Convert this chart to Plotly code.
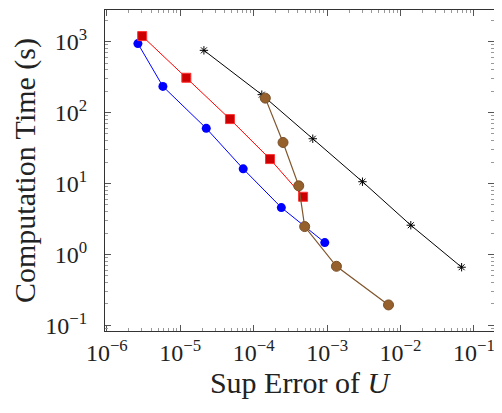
import plotly.graph_objects as go

blue_x = [2.65e-6, 5.8e-6, 2.26e-5, 7.2e-5, 2.38e-4, 9.3e-4]
blue_y = [940, 234, 60, 16.1, 4.58, 1.47]
red_x = [3.03e-6, 1.21e-5, 4.75e-5, 1.67e-4, 4.71e-4]
red_y = [1200, 310, 81, 22.1, 6.5]
black_x = [2.1e-5, 1.29e-4, 6.38e-4, 3.03e-3, 1.38e-2, 6.79e-2]
black_y = [755, 179, 42.8, 10.6, 2.58, 0.66]
brown_x = [1.44e-4, 2.51e-4, 4.11e-4, 4.95e-4, 1.34e-3, 6.86e-3]
brown_y = [160, 37.9, 9.27, 2.47, 0.68, 0.194]

x_decades = [-7, -6, -5, -4, -3, -2, -1]
x_ticks = [1e-6, 1e-5, 1e-4, 1e-3, 1e-2, 1e-1]
x_ticktext = ["10<sup>−6</sup>", "10<sup>−5</sup>", "10<sup>−4</sup>", "10<sup>−3</sup>", "10<sup>−2</sup>", "10<sup>−1</sup>"]
y_decades = [-2, -1, 0, 1, 2, 3]
y_ticks = [1e-1, 1e0, 1e1, 1e2, 1e3]
y_ticktext = ["10<sup>−1</sup>", "10<sup>0</sup>", "10<sup>1</sup>", "10<sup>2</sup>", "10<sup>3</sup>"]

x_minor = [m * 10.0 ** d for d in x_decades for m in range(2, 10)]
y_minor = [m * 10.0 ** d for d in y_decades for m in range(2, 10)]

FONT = "Liberation Serif"
XR = [-6.025, -0.727]
YR = [-1.08, 3.447]

fig = go.Figure()
fig.add_trace(go.Scatter(x=blue_x, y=blue_y, mode="lines+markers",
                         line=dict(color="#0000ff", width=1),
                         marker=dict(symbol="circle", size=9, color="#0000ff")))
fig.add_trace(go.Scatter(x=red_x, y=red_y, mode="lines+markers",
                         line=dict(color="#ff0000", width=1),
                         marker=dict(symbol="square", size=9, color="#cc0000",
                                     line=dict(color="#ff3333", width=1))))
fig.add_trace(go.Scatter(x=black_x, y=black_y, mode="lines+markers",
                         line=dict(color="#000000", width=1),
                         marker=dict(symbol="asterisk-open", size=7, color="#000000",
                                     line=dict(color="#000000", width=1))))
fig.add_trace(go.Scatter(x=brown_x, y=brown_y, mode="lines+markers",
                         line=dict(color="#80552b", width=1.2),
                         marker=dict(symbol="circle", size=10, color="#96602d",
                                     line=dict(color="#7a5028", width=1))))
# carrier trace for the minor-tick axes (invisible)
fig.add_trace(go.Scatter(x=blue_x, y=blue_y, xaxis="x2", yaxis="y2", mode="markers",
                         marker=dict(opacity=0), hoverinfo="skip"))

major = dict(type="log", showgrid=False, zeroline=False, showline=True,
             linecolor="#333", linewidth=1, mirror="allticks", ticks="inside",
             ticklen=6, tickcolor="#555", tickwidth=1,
             tickfont=dict(family=FONT, size=24, color="#222"),
             automargin=False)
minor = dict(type="log", showgrid=False, zeroline=False, showline=False,
             mirror="allticks", ticks="inside", ticklen=3, tickcolor="#999", tickwidth=1,
             showticklabels=False, tickmode="array", automargin=False)

fig.update_layout(
    xaxis=dict(**major, range=XR, tickmode="array", tickvals=x_ticks, ticktext=x_ticktext,
               title=dict(text="Sup Error of <i>U</i>", font=dict(family=FONT, size=30, color="#222"), standoff=6)),
    yaxis=dict(**major, range=YR, tickmode="array", tickvals=y_ticks, ticktext=y_ticktext,
               ticklabelstandoff=12,
               title=dict(text="Computation Time (s)", font=dict(family=FONT, size=30, color="#222"), standoff=10)),
    xaxis2=dict(**minor, range=XR, tickvals=x_minor, overlaying="x", side="bottom", anchor="y2"),
    yaxis2=dict(**minor, range=YR, tickvals=y_minor, overlaying="y", side="left", anchor="x2"),
)

fig.update_layout(width=494, height=405, showlegend=False,
                  margin=dict(l=97, r=8, t=2, b=82),
                  plot_bgcolor="white", paper_bgcolor="white")

fig.write_html("out.html")
